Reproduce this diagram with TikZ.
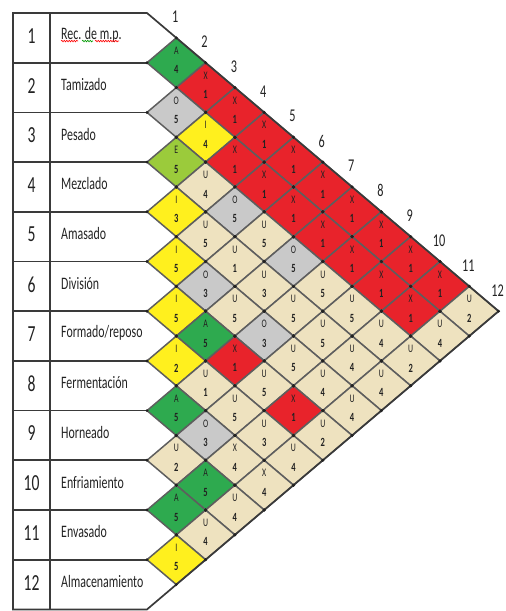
\documentclass[tikz,border=0pt]{standalone}
\usepackage{fontspec}
\setmainfont{Carlito}
\newfontfamily\narrowfont[FakeStretch=0.68]{Carlito}
\usetikzlibrary{calc,decorations.pathmorphing}
\definecolor{tableline}{HTML}{3A3A3A}
\definecolor{gridgray}{HTML}{5E5E5E}
\definecolor{cellred}{HTML}{E8232B}
\definecolor{cellgreen}{HTML}{2EAA4F}
\definecolor{celllime}{HTML}{9BCB3B}
\definecolor{cellyellow}{HTML}{FFF01E}
\definecolor{cellgray}{HTML}{C9C9C9}
\definecolor{cellbeige}{HTML}{EEE2BF}
\definecolor{textdark}{HTML}{222222}

\def\relchart{1/2/A/4/cellgreen,1/3/X/1/cellred,1/4/X/1/cellred,1/5/X/1/cellred,
  1/6/X/1/cellred,1/7/X/1/cellred,1/8/X/1/cellred,1/9/X/1/cellred,1/10/X/1/cellred,
  1/11/X/1/cellred,1/12/U/2/cellbeige,
  2/3/O/5/cellgray,2/4/I/4/cellyellow,2/5/X/1/cellred,2/6/X/1/cellred,2/7/X/1/cellred,
  2/8/X/1/cellred,2/9/X/1/cellred,2/10/X/1/cellred,2/11/X/1/cellred,2/12/U/4/cellbeige,
  3/4/E/5/celllime,3/5/U/4/cellbeige,3/6/O/5/cellgray,3/7/U/5/cellbeige,3/8/O/5/cellgray,
  3/9/U/5/cellbeige,3/10/U/5/cellbeige,3/11/U/4/cellbeige,3/12/U/2/cellbeige,
  4/5/I/3/cellyellow,4/6/U/5/cellbeige,4/7/U/1/cellbeige,4/8/U/3/cellbeige,
  4/9/U/5/cellbeige,4/10/U/5/cellbeige,4/11/U/4/cellbeige,4/12/U/4/cellbeige,
  5/6/I/5/cellyellow,5/7/O/3/cellgray,5/8/U/5/cellbeige,5/9/O/3/cellgray,
  5/10/U/5/cellbeige,5/11/U/4/cellbeige,5/12/U/4/cellbeige,
  6/7/I/5/cellyellow,6/8/A/5/cellgreen,6/9/X/1/cellred,6/10/U/5/cellbeige,
  6/11/X/1/cellred,6/12/U/2/cellbeige,
  7/8/I/2/cellyellow,7/9/U/1/cellbeige,7/10/U/5/cellbeige,7/11/U/3/cellbeige,7/12/U/4/cellbeige,
  8/9/A/5/cellgreen,8/10/O/3/cellgray,8/11/X/4/cellbeige,8/12/X/4/cellbeige,
  9/10/U/2/cellbeige,9/11/A/5/cellgreen,9/12/U/4/cellbeige,
  10/11/A/5/cellgreen,10/12/U/4/cellbeige,
  11/12/I/5/cellyellow}

\begin{document}
\begin{tikzpicture}[x=1pt,y=-1pt,
    cellline/.style={draw=gridgray,line width=1.5pt,line join=miter},
    tline/.style={draw=tableline,line width=1.7pt},
    vdot/.style={fill=textdark},
    rowno/.style={font=\narrowfont\fontsize{23}{23}\selectfont,text=textdark,inner sep=0pt},
    rowname/.style={font=\narrowfont\fontsize{17.5}{18}\selectfont,text=textdark,inner sep=0pt,anchor=west},
    collabel/.style={font=\narrowfont\fontsize{18}{18}\selectfont,text=textdark,inner sep=0pt},
    relcode/.style={font=\narrowfont\fontsize{11.5}{11.5}\selectfont,text=textdark,inner sep=0pt},
    relwhy/.style={font=\narrowfont\bfseries\fontsize{12.5}{12.5}\selectfont,text=textdark,inner sep=0pt}]
  \useasboundingbox (0,0) rectangle (506,611);
  \foreach \i/\j/\rcode/\rnum/\rcol in \relchart {
    \pgfmathsetmacro\cx{147+29.3*(\j-\i)}
    \pgfmathsetmacro\cy{13+24.85*(\i+\j-1)}
    \coordinate (p\i-\j) at (\cx,\cy);
    \filldraw[fill=\rcol,cellline] (\cx-29.3,\cy) -- (\cx,\cy-24.85) -- (\cx+29.3,\cy)
      -- (\cx,\cy+24.85) -- cycle;
  }
  \draw[tline] (13,13) -- (147,13) -- (498.6,311.2) -- (147,609.4) -- (13,609.4) -- cycle;
  \draw[tline] (50,13) -- (50,609.4);
  \foreach \k in {1,...,11}
    \draw[tline] (13,{13+49.7*\k}) -- (147,{13+49.7*\k});
  \foreach \i/\j/\rcode/\rnum/\rcol in \relchart {
    \foreach \vx/\vy in {-29.3/0,0/-24.85,29.3/0,0/24.85}
      \fill[vdot] ($(p\i-\j)+(\vx,\vy)$) circle (1.6pt);
    \node[relcode] (l\i-\j) at ([yshift=12pt]p\i-\j) {\rcode};
    \node[relwhy] (n\i-\j) at ([yshift=-7pt]p\i-\j) {\rnum};
  }
  \foreach \k/\rname in {1/Rec. de m.p.,2/Tamizado,3/Pesado,4/Mezclado,5/Amasado,
      6/División,7/{Formado/reposo},8/Fermentación,9/Horneado,10/Enfriamiento,
      11/Envasado,12/Almacenamiento} {
    \node[rowno] (k\k) at (31.5,{13+49.7*(\k-0.5)-2}) {\k};
    \node[rowname] (r\k) at (61,{13+49.7*(\k-0.5)-3}) {\rname};
  }
  \foreach \k in {1,...,12}
    \node[collabel] (c\k) at ({147+29.3*\k-1},{13+24.85*\k-21}) {\k};
  \draw[red,line width=0.6pt,decorate,decoration={snake,segment length=2.5pt,amplitude=0.8pt}]
    ($(r1.south west)+(0,-1.5)$) -- ++(17,0);
  \draw[green!60!black,line width=0.6pt,decorate,decoration={snake,segment length=2.5pt,amplitude=0.8pt}]
    ($(r1.south west)+(21,-1.5)$) -- ++(11,0);
  \draw[red,line width=0.6pt,decorate,decoration={snake,segment length=2.5pt,amplitude=0.8pt}]
    ($(r1.south west)+(34,-1.5)$) -- ++(24,0);
\end{tikzpicture}
\end{document}
